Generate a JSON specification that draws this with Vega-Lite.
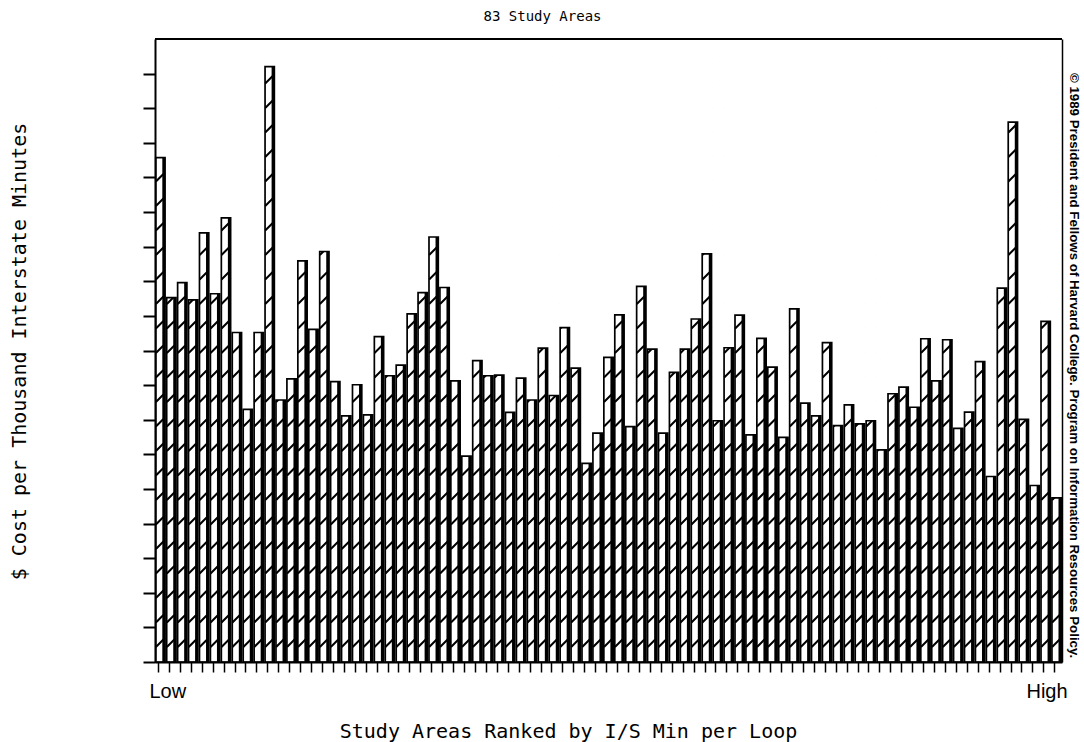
{
  "$schema": "https://vega.github.io/schema/vega-lite/v6.json",
  "width": 907,
  "height": 623,
  "autosize": "none",
  "padding": {"left": 155, "top": 39, "right": 22, "bottom": 80},
  "background": "white",
  "config": {
    "view": {"stroke": null},
    "axisX": {
      "titleFont": "DejaVu Sans Mono",
      "titleFontSize": 20,
      "titleFontWeight": "normal",
      "titleColor": "black",
      "titleX": 413,
      "titleY": 75,
      "titleAlign": "center",
      "titleBaseline": "alphabetic",
      "labelExpr": "datum.value == 1 ? 'Low' : (datum.value == 83 ? 'High' : '')",
      "labelFont": "Liberation Sans",
      "labelFontSize": 20,
      "labelColor": "black",
      "labelAngle": 0,
      "labelFlush": 20,
      "labelFlushOffset": 11,
      "labelPadding": 9,
      "labelOverlap": false,
      "labelBound": false,
      "bandPosition": 0.3,
      "tickSize": 10,
      "tickWidth": 1.5,
      "tickColor": "black",
      "domainColor": "black",
      "domainWidth": 2,
      "grid": false,
      "zindex": 1
    }
  },
  "title": {
    "text": "83 Study Areas",
    "font": "DejaVu Sans Mono",
    "fontSize": 14,
    "fontWeight": "normal",
    "color": "black",
    "offset": 14,
    "dx": -66
  },
  "data": {
    "values": [
      {"rank": 1, "cost": 14.57}, {"rank": 2, "cost": 10.53}, {"rank": 3, "cost": 10.96}, {"rank": 4, "cost": 10.46},
      {"rank": 5, "cost": 12.4}, {"rank": 6, "cost": 10.64}, {"rank": 7, "cost": 12.83}, {"rank": 8, "cost": 9.52},
      {"rank": 9, "cost": 7.3}, {"rank": 10, "cost": 9.52}, {"rank": 11, "cost": 17.2}, {"rank": 12, "cost": 7.57},
      {"rank": 13, "cost": 8.18}, {"rank": 14, "cost": 11.59}, {"rank": 15, "cost": 9.61}, {"rank": 16, "cost": 11.86},
      {"rank": 17, "cost": 8.1}, {"rank": 18, "cost": 7.11}, {"rank": 19, "cost": 8.01}, {"rank": 20, "cost": 7.14},
      {"rank": 21, "cost": 9.4}, {"rank": 22, "cost": 8.27}, {"rank": 23, "cost": 8.58}, {"rank": 24, "cost": 10.06},
      {"rank": 25, "cost": 10.67}, {"rank": 26, "cost": 12.28}, {"rank": 27, "cost": 10.82}, {"rank": 28, "cost": 8.12},
      {"rank": 29, "cost": 5.95}, {"rank": 30, "cost": 8.71}, {"rank": 31, "cost": 8.27}, {"rank": 32, "cost": 8.29},
      {"rank": 33, "cost": 7.21}, {"rank": 34, "cost": 8.2}, {"rank": 35, "cost": 7.57}, {"rank": 36, "cost": 9.07},
      {"rank": 37, "cost": 7.7}, {"rank": 38, "cost": 9.66}, {"rank": 39, "cost": 8.49}, {"rank": 40, "cost": 5.74},
      {"rank": 41, "cost": 6.61}, {"rank": 42, "cost": 8.8}, {"rank": 43, "cost": 10.03}, {"rank": 44, "cost": 6.8},
      {"rank": 45, "cost": 10.85}, {"rank": 46, "cost": 9.04}, {"rank": 47, "cost": 6.61}, {"rank": 48, "cost": 8.37},
      {"rank": 49, "cost": 9.04}, {"rank": 50, "cost": 9.91}, {"rank": 51, "cost": 11.79}, {"rank": 52, "cost": 6.97},
      {"rank": 53, "cost": 9.08}, {"rank": 54, "cost": 10.02}, {"rank": 55, "cost": 6.56}, {"rank": 56, "cost": 9.35},
      {"rank": 57, "cost": 8.52}, {"rank": 58, "cost": 6.49}, {"rank": 59, "cost": 10.2}, {"rank": 60, "cost": 7.48},
      {"rank": 61, "cost": 7.11}, {"rank": 62, "cost": 9.23}, {"rank": 63, "cost": 6.83}, {"rank": 64, "cost": 7.43},
      {"rank": 65, "cost": 6.88}, {"rank": 66, "cost": 6.97}, {"rank": 67, "cost": 6.13}, {"rank": 68, "cost": 7.75},
      {"rank": 69, "cost": 7.94}, {"rank": 70, "cost": 7.36}, {"rank": 71, "cost": 9.34}, {"rank": 72, "cost": 8.12},
      {"rank": 73, "cost": 9.31}, {"rank": 74, "cost": 6.75}, {"rank": 75, "cost": 7.22}, {"rank": 76, "cost": 8.68},
      {"rank": 77, "cost": 5.36}, {"rank": 78, "cost": 10.8}, {"rank": 79, "cost": 15.6}, {"rank": 80, "cost": 7.01},
      {"rank": 81, "cost": 5.1}, {"rank": 82, "cost": 9.84}, {"rank": 83, "cost": 4.74}
    ]
  },
  "resolve": {"axis": {"y": "independent"}},
  "layer": [
    {
      "mark": {
        "type": "point",
        "shape": "M-4.5,-15L3,-22.5M-4.5,-39.5L3,-47M-4.5,-64L3,-71.5M-4.5,-88.5L3,-96M-4.5,-113L3,-120.5M-4.5,-137.5L3,-145M-4.5,-162L3,-169.5M-4.5,-186.5L3,-194M-4.5,-211L3,-218.5M-4.5,-235.5L3,-243M-4.5,-260L3,-267.5M-4.5,-284.5L3,-292M-4.5,-309L3,-316.5M-4.5,-333.5L3,-341M-4.5,-358L3,-365.5M-4.5,-382.5L3,-390M-4.5,-407L3,-414.5M-4.5,-431.5L3,-439M-4.5,-456L3,-463.5M-4.5,-480.5L3,-488M-4.5,-505L3,-512.5M-4.5,-529.5L3,-537M-4.5,-554L3,-561.5M-4.5,-578.5L3,-586M-4.5,-603L3,-610.5",
        "size": 4,
        "filled": false,
        "stroke": "black",
        "strokeWidth": 2,
        "opacity": 1
      },
      "encoding": {
        "x": {
          "field": "rank",
          "type": "ordinal",
          "sort": null,
          "scale": {"paddingInner": 0.15, "paddingOuter": 0.07},
          "title": "Study Areas Ranked by I/S Min per Loop"
        },
        "y": {
          "datum": 0,
          "type": "quantitative",
          "scale": {"domain": [0, 18], "nice": false},
          "axis": null
        }
      }
    },
    {
      "mark": {"type": "bar", "color": "white", "width": {"band": 1.2}},
      "encoding": {
        "x": {"field": "rank", "type": "ordinal", "sort": null, "title": "Study Areas Ranked by I/S Min per Loop"},
        "y": {"field": "cost", "type": "quantitative", "axis": null},
        "y2": {"datum": 18}
      }
    },
    {
      "mark": {"type": "bar", "filled": false, "stroke": "black", "strokeWidth": 1.7},
      "encoding": {
        "x": {"field": "rank", "type": "ordinal", "sort": null, "title": "Study Areas Ranked by I/S Min per Loop"},
        "y": {
          "field": "cost",
          "type": "quantitative",
          "axis": {
            "orient": "left",
            "values": [0, 1, 2, 3, 4, 5, 6, 7, 8, 9, 10, 11, 12, 13, 14, 15, 16, 17],
            "labels": false,
            "grid": false,
            "tickSize": 12,
            "tickWidth": 2,
            "tickColor": "black",
            "domainColor": "black",
            "domainWidth": 2,
            "title": "$ Cost per Thousand Interstate Minutes",
            "titleFont": "DejaVu Sans Mono",
            "titleFontSize": 20,
            "titleFontWeight": "normal",
            "titleColor": "black",
            "titleAngle": -90,
            "titleX": -130,
            "titleY": 312,
            "titleAlign": "center",
            "titleBaseline": "alphabetic",
            "zindex": 1
          }
        }
      }
    },
    {
      "mark": {"type": "bar", "width": 2.8, "xOffset": 3.3, "color": "black"},
      "encoding": {
        "x": {"field": "rank", "type": "ordinal", "sort": null, "title": "Study Areas Ranked by I/S Min per Loop"},
        "y": {"field": "cost", "type": "quantitative", "axis": null}
      }
    },
    {
      "mark": {"type": "rule", "color": "black", "strokeWidth": 2},
      "encoding": {
        "y": {
          "datum": 18,
          "type": "quantitative",
          "axis": {
            "orient": "right",
            "ticks": false,
            "labels": false,
            "grid": false,
            "domainColor": "black",
            "domainWidth": 1.5,
            "title": "© 1989 President and Fellows of Harvard College. Program on Information Resources Policy.",
            "titleFont": "Liberation Sans",
            "titleFontSize": 13.3,
            "titleFontWeight": "bold",
            "titleColor": "black",
            "titleAngle": 90,
            "titleX": 7,
            "titleY": 326,
            "titleAlign": "center",
            "titleBaseline": "alphabetic",
            "zindex": 1
          }
        }
      }
    }
  ]
}
